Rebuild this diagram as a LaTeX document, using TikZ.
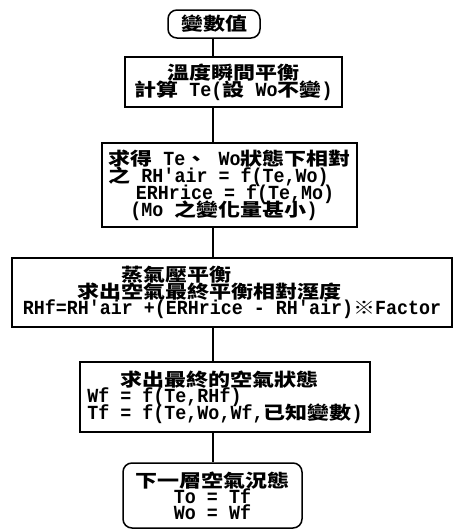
\documentclass[tikz,border=0pt]{standalone}
\usepackage{fontspec}
\setmonofont{Liberation Mono}[FakeStretch=0.917]
\newfontfamily\cjk{Noto Sans CJK TC}[FakeStretch=1.2222]
\newcommand\C[1]{{\cjk\fontsize{18}{17}\selectfont #1}}
\newlength\U \setlength\U{11pt}
\newcommand\fnt{\ttfamily\bfseries\fontsize{20}{17}\selectfont\lineskiplimit=-50pt\frenchspacing}
\tikzset{
  box/.style={draw, line width=1.5pt, inner sep=0pt, align=left, font=\fnt},
  rbox/.style={box, rounded corners=9pt, align=center},
  link/.style={line width=1.5pt}
}
\begin{document}
\begin{tikzpicture}[x=1pt,y=-1pt]
\useasboundingbox (0,0) rectangle (461,531);
\coordinate (cx) at (213,0);
\node[rbox, minimum width=92pt, minimum height=28pt] (b1) at (214,24) {\C{變數值}};
\node[box, minimum width=217pt, minimum height=50pt] (b2) at (233.5,82)
  {\hspace*{3\U}\C{溫度瞬間平衡}\\
   \C{計算} Te(\C{設} Wo\C{不變})};
\node[box, minimum width=255pt, minimum height=84pt] (b3) at (229.5,185)
  {\C{求得} Te\C{、} Wo\C{狀態下相對}\\
   \C{之} RH'air = f(Te,Wo)\\
   \hspace*{2.5\U}ERHrice = f(Te,Mo)\\
   \hspace*{2\U}(Mo \C{之變化量甚小})};
\node[box, minimum width=440pt, minimum height=69pt] (b4) at (232,292.5)
  {\hspace*{9\U}\C{蒸氣壓平衡}\\
   \hspace*{5\U}\C{求出空氣最終平衡相對溼度}\\[-1pt]
   RHf=RH'air +(ERHrice - RH'air)\C{※}Factor};
\node[box, minimum width=290pt, minimum height=70pt] (b5) at (225,397)
  {\hspace*{3\U}\C{求出最終的空氣狀態}\\[-1pt]
   Wf = f(Te,RHf)\\[0pt]
   Tf = f(Te,Wo,Wf,\C{已知變數})};
\node[rbox, minimum width=179pt, minimum height=65pt] (b6) at (212.5,495.5)
  {\C{下一層空氣況態}\\[-1pt]
   To = Tf\\[-1pt]
   Wo = Wf};
\draw[link] (b1.south -| cx) -- (b2.north -| cx);
\draw[link] (b2.south -| cx) -- (b3.north -| cx);
\draw[link] (b3.south -| cx) -- (b4.north -| cx);
\draw[link] (b4.south -| cx) -- (b5.north -| cx);
\draw[link] (b5.south -| cx) -- (b6.north -| cx);
\end{tikzpicture}
\end{document}
